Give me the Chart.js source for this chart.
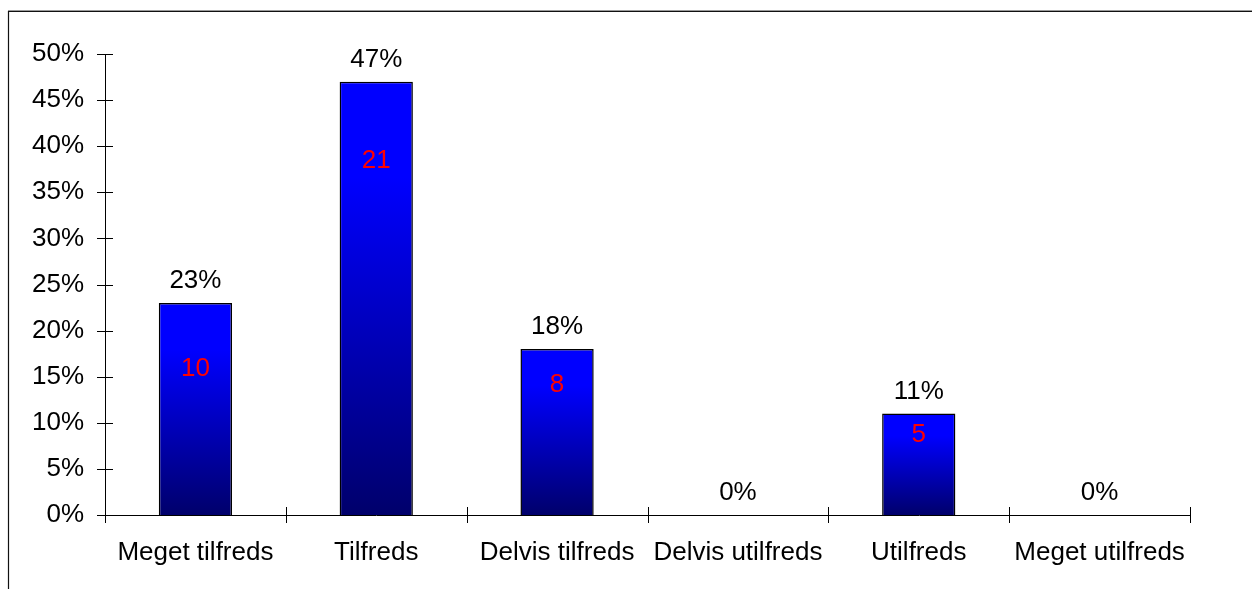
<!DOCTYPE html>
<html>
<head>
<meta charset="utf-8">
<script src="https://cdn.jsdelivr.net/npm/chart.js@4/dist/chart.umd.min.js"></script>
<style>
  html, body { margin: 0; padding: 0; background: #fff; }
  #wrap { width: 1252px; height: 589px; position: relative; }
</style>
</head>
<body>
<div id="wrap"><canvas id="c"></canvas></div>
<script>
// Satisfaction survey: share of answers per category, with respondent counts
const categories = ['Meget tilfreds', 'Tilfreds', 'Delvis tilfreds', 'Delvis utilfreds', 'Utilfreds', 'Meget utilfreds'];
const percentages = [23, 47, 18, 0, 11, 0];
const counts = [10, 21, 8, 0, 5, 0];
const yTicks = [0, 5, 10, 15, 20, 25, 30, 35, 40, 45, 50];

const FONT = { family: '"Liberation Sans", Arial, sans-serif', size: 26 };

// Height (in axis units) at which each count is printed inside its bar
const countLabelAt = [15.9, 38.4, 14.1, null, 8.7, null];

function barGradient(c) {
  const chart = c.chart;
  const y = chart.scales && chart.scales.y;
  if (!chart.chartArea || !y) return '#0000ff';
  const top = y.getPixelForValue(c.raw);
  const base = y.getPixelForValue(0);
  if (base - top < 1) return '#0000ff';
  const g = chart.ctx.createLinearGradient(0, top, 0, base);
  g.addColorStop(0, '#0000ff');
  g.addColorStop(0.22, '#0000ff');
  g.addColorStop(1, '#00006b');
  return g;
}

// Outer frame (top and left edges)
const framePlugin = {
  id: 'frame',
  beforeDraw(chart) {
    const ctx = chart.ctx;
    ctx.save();
    ctx.strokeStyle = '#9a9a9a';
    ctx.lineWidth = 1;
    ctx.beginPath();
    ctx.moveTo(8, 10.5); ctx.lineTo(chart.width, 10.5);
    ctx.stroke();
    ctx.strokeStyle = '#111';
    ctx.lineWidth = 1.2;
    ctx.beginPath();
    ctx.moveTo(8.5, chart.height); ctx.lineTo(8.5, 11.5); ctx.lineTo(chart.width, 11.5);
    ctx.stroke();
    ctx.restore();
  }
};

// Tick marks that cross both axes
const crossTicksPlugin = {
  id: 'crossTicks',
  afterDraw(chart) {
    const { ctx, scales: { x, y } } = chart;
    const base = y.getPixelForValue(0);
    ctx.save();
    ctx.strokeStyle = '#000';
    ctx.lineWidth = 1;
    ctx.beginPath();
    y.ticks.forEach(t => {
      const py = Math.round(y.getPixelForValue(t.value)) + 0.5;
      ctx.moveTo(x.left - 8, py); ctx.lineTo(x.left + 8, py);
    });
    for (let i = 0; i <= categories.length; i++) {
      const px = Math.round(x.getPixelForValue(i - 0.5)) + 0.5;
      ctx.moveTo(px, base - 8); ctx.lineTo(px, base + 8);
    }
    ctx.stroke();
    ctx.restore();
  }
};

// Percent above each bar, count inside it
const valueLabelsPlugin = {
  id: 'valueLabels',
  afterDatasetsDraw(chart) {
    const { ctx, scales: { y } } = chart;
    const meta = chart.getDatasetMeta(0);
    ctx.save();
    ctx.font = `${FONT.size}px ${FONT.family}`;
    ctx.textAlign = 'center';
    ctx.textBaseline = 'middle';
    meta.data.forEach((bar, i) => {
      const top = y.getPixelForValue(percentages[i]);
      ctx.fillStyle = '#000';
      ctx.fillText(percentages[i] + '%', bar.x, top - 22);
      if (counts[i] > 0 && countLabelAt[i] != null) {
        ctx.fillStyle = '#ff0000';
        ctx.fillText(String(counts[i]), bar.x, y.getPixelForValue(countLabelAt[i]));
      }
    });
    ctx.restore();
  }
};

new Chart(document.getElementById('c'), {
  type: 'bar',
  data: {
    labels: categories,
    datasets: [{
      data: percentages,
      backgroundColor: barGradient,
      borderColor: '#000',
      borderWidth: 1.5,
      borderSkipped: 'bottom',
      categoryPercentage: 1,
      barPercentage: 0.405
    }]
  },
  options: {
    responsive: true,
    maintainAspectRatio: false,
    animation: false,
    devicePixelRatio: 1,
    layout: { padding: { left: 0, top: 54, right: 62, bottom: 0 } },
    plugins: { legend: { display: false }, tooltip: { enabled: false } },
    scales: {
      x: {
        grid: { display: false, drawTicks: false },
        border: { display: true, color: '#000', width: 1 },
        ticks: { color: '#000', font: FONT, padding: 22, maxRotation: 0, autoSkip: false },
        afterFit(s) { s.height = 74; }
      },
      y: {
        min: 0,
        max: 50,
        afterBuildTicks(s) { s.ticks = yTicks.map(v => ({ value: v })); },
        grid: { display: false, drawTicks: false },
        border: { display: true, color: '#000', width: 1 },
        ticks: { color: '#000', font: FONT, padding: 21, callback: v => v + '%' },
        afterFit(s) { s.width = 105; }
      }
    }
  },
  plugins: [framePlugin, crossTicksPlugin, valueLabelsPlugin]
});
</script>
</body>
</html>
